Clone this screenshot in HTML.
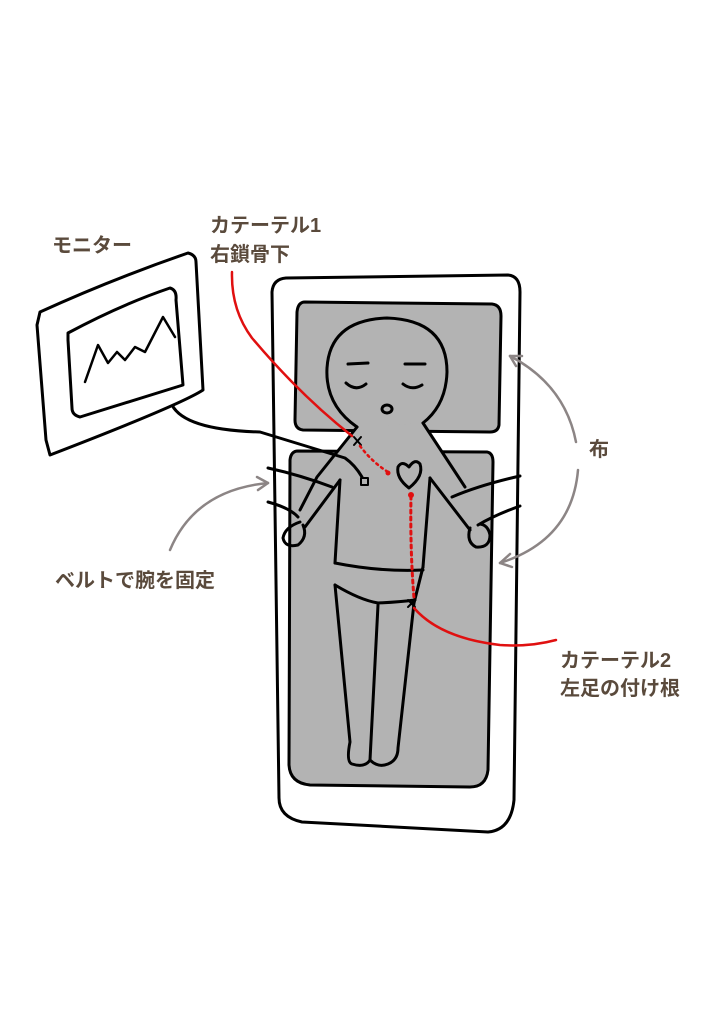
<!DOCTYPE html>
<html><head><meta charset="utf-8"><style>
html,body{margin:0;padding:0;background:#fff;}
svg{display:block}
text{font-family:"Liberation Sans","Noto Sans CJK JP",sans-serif;font-size:20px;fill:#5a4a3c;font-weight:bold}
</style></head><body>
<svg width="719" height="1024" viewBox="0 0 719 1024" xmlns="http://www.w3.org/2000/svg">
<g fill="none" stroke="#000" stroke-width="3" stroke-linecap="round" stroke-linejoin="round">
<path d="M286,278 L508,275 Q520,276 520,292 L514,800 Q511,830 488,832 L302,822 Q279,817 279,798 L272,292 Q273,279 286,278 Z" fill="#fff"/>
<path d="M305,302 L492,304 Q501,305 501,316 L499,425 Q498,432 490,432 L303,430 Q295,429 295,420 L297,312 Q298,302 305,302 Z" fill="#b3b3b3"/>
<path d="M298,451 L487,452 Q493,453 493,462 L488,770 Q486,787 470,787 L310,785 Q290,783 289,765 L290,460 Q291,451 298,451 Z" fill="#b3b3b3"/>
<path d="M357,427 L317,477 L295,517 L305,527 L340,480 L335,563 L335,585 L350,745 L350,763 L372,765 L378,605 L380,765 L398,762 L398,750 L415,600 L423,567 L430,478 L470,530 L478,520 L465,487 L423,423 Z" fill="#b3b3b3" stroke="none"/>
<path d="M357,427 Q325,405 327,368 Q330,320 387,318 Q447,320 447,372 Q446,405 423,423" fill="#b3b3b3"/>
<path d="M348,364 L368,363 M405,364 L425,364" />
<path d="M346,383 Q356,392 366,384 M403,384 Q412,391 422,385" />
<ellipse cx="387" cy="409" rx="5" ry="4"/>
<path d="M357,427 L317,477 L300,510"/>
<path d="M340,480 L305,527"/>
<path d="M340,480 L335,563"/>
<path d="M423,423 L465,487"/>
<path d="M430,478 L423,567"/>
<path d="M430,478 L470,530"/>
<path d="M300,522 Q285,527 283,538 Q285,548 298,545 Q308,537 303,525"/>
<path d="M470,528 Q466,542 476,547 Q490,548 490,535 Q488,525 480,524"/>
<path d="M268,468 Q300,475 332,487"/>
<path d="M268,502 Q290,508 298,517"/>
<path d="M520,476 Q480,485 452,497"/>
<path d="M520,506 Q495,515 478,525"/>
<path d="M335,563 Q380,572 423,570"/>
<path d="M335,585 Q360,600 378,603 Q400,602 415,600"/>
<path d="M423,567 L414,603"/>
<path d="M335,585 L350,742 Q346,762 352,764 Q365,768 370,760 L378,605"/>
<path d="M370,760 Q378,768 388,764 Q398,760 398,748 L414,603"/>
<path d="M409,488 Q396,478 398,467 Q402,460 409,467 Q415,458 420,464 Q424,476 409,488 Z"/>
<path d="M172,405 Q185,430 260,432 L345,458 Q355,465 362,477"/>
<rect x="361" y="478" width="7" height="7" stroke-width="2"/>
<path d="M40,312 Q110,280 188,253 Q196,255 196,262 L203,390 Q180,405 50,455 L46,440 L37,325 Z" fill="#fff"/>
<path d="M68,333 Q120,305 170,288 Q177,290 176,300 L183,385 L80,417 Q72,415 72,408 L68,340 Z"/>
<path d="M85,382 L98,345 L108,363 L117,352 L125,360 L135,347 L145,352 L163,317 L175,337" stroke-width="2.5"/>
<path d="M354,437 L361,445 M361,437 L354,445" stroke-width="2"/>
<path d="M408,600 L415,607 M415,600 L408,607" stroke-width="2"/>
</g>
<g fill="none" stroke="#e01010" stroke-width="2.5" stroke-linecap="round">
<path d="M232,272 Q231,310 252,338 Q300,395 352,436"/>
<path d="M360,446 Q372,462 388,472" stroke-dasharray="2,4"/>
<path d="M411,496 Q410,550 414,598" stroke-dasharray="3,4" stroke-width="3"/>
<path d="M414,608 Q440,638 500,645 Q530,647 556,640"/>
</g>
<circle cx="388" cy="473" r="2.5" fill="#e01010"/>
<circle cx="411" cy="495" r="3" fill="#e01010"/>
<g fill="none" stroke="#8c8585" stroke-width="2.5" stroke-linecap="round">
<path d="M576,442 Q565,385 510,356"/>
<path d="M510,356 L522,356 M510,356 L516,366"/>
<path d="M578,470 Q572,540 500,563"/>
<path d="M500,563 L510,554 M500,563 L512,567"/>
<path d="M170,550 Q195,490 268,483"/>
<path d="M268,483 L257,477 M268,483 L258,490"/>
</g>
<text x="52" y="252">モニター</text>
<text x="210" y="232">カテーテル1</text>
<text x="210" y="261">右鎖骨下</text>
<text x="589" y="456">布</text>
<text x="55" y="587">ベルトで腕を固定</text>
<text x="560" y="667">カテーテル2</text>
<text x="560" y="695">左足の付け根</text>
</svg>
</body></html>
